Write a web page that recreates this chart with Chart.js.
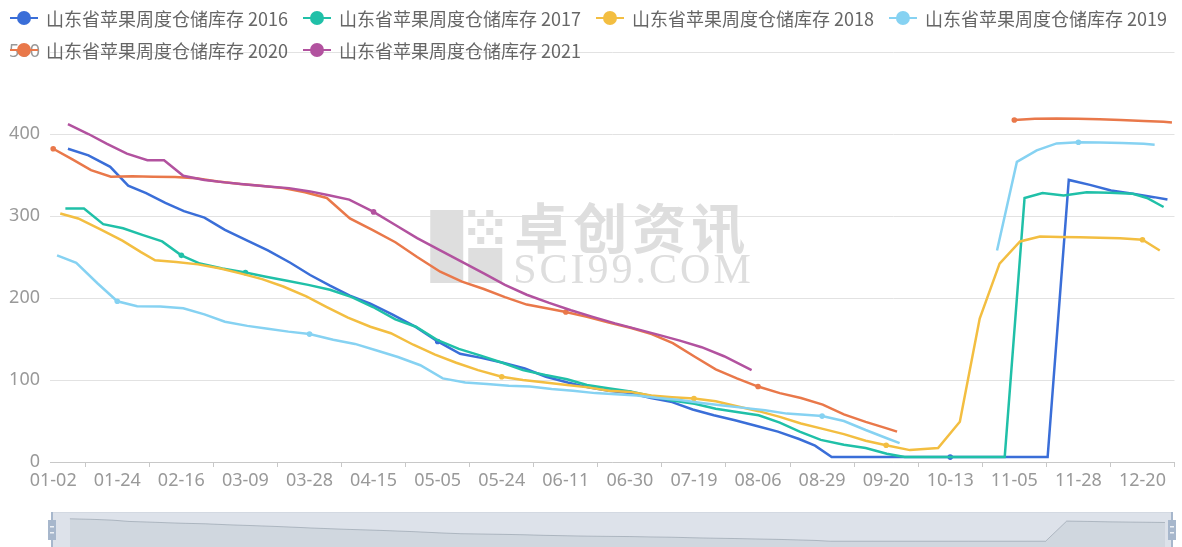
<!DOCTYPE html>
<html>
<head>
<meta charset="utf-8">
<script src="https://cdn.jsdelivr.net/npm/chart.js@4.4.1/dist/chart.umd.min.js"></script>
<style>
  html, body { margin: 0; padding: 0; background: #fff; }
  #wrap { position: relative; width: 1182px; height: 547px; overflow: hidden; }
  #mainBox { position: absolute; left: 0; top: 0; width: 1182px; height: 511px; }
  #sliderBox { position: absolute; left: 44px; top: 512px; width: 1136px; height: 36px; }
</style>
</head>
<body>
<div id="wrap">
  <div id="mainBox"><canvas id="chart"></canvas></div>
  <div id="sliderBox"><canvas id="slider"></canvas></div>
</div>
<script>
// date axis labels, one every label step
const tickLabels = ['01-02', '01-24', '02-16', '03-09', '03-28', '04-15', '05-05', '05-24', '06-11',
  '06-30', '07-19', '08-06', '08-29', '09-20', '10-13', '11-05', '11-28', '12-20'];

const seriesNames = [
  '山东省苹果周度仓储库存 2016',
  '山东省苹果周度仓储库存 2017',
  '山东省苹果周度仓储库存 2018',
  '山东省苹果周度仓储库存 2019',
  '山东省苹果周度仓储库存 2020',
  '山东省苹果周度仓储库存 2021'
];

// x = place on the date axis, counted in label steps (0 = 01-02)
const x2016 = [0.23, 0.55, 0.89, 1.17, 1.45, 1.75, 2.04, 2.36, 2.68, 3.03, 3.35, 3.7, 4.01, 4.32, 4.63, 4.95, 5.29, 5.65, 6, 6.35,
  6.68, 7.02, 7.36, 7.69, 8.03, 8.35, 8.67, 9, 9.33, 9.66, 9.98, 10.31, 10.64, 10.98, 11.31, 11.64, 11.89, 12.15, 12.48, 12.81,
  13.15, 13.48, 14, 14.31, 14.63, 14.96, 15.24, 15.52, 15.85, 16.18, 16.51, 16.85, 17.18, 17.39];
const v2016 = [382, 374, 360, 337, 328, 316, 306, 298, 283, 270, 258, 243, 228, 215, 203, 193, 180, 165, 147, 132,
  127, 121, 114, 104, 97, 91, 87, 84, 78, 73, 64, 57, 51, 44, 37, 28, 20, 6, 6, 6,
  6, 6, 6, 6, 6, 6, 6, 6, 344, 338, 331, 327, 323, 320];

const x2017 = [0.19, 0.48, 0.78, 1.09, 1.39, 1.7, 2, 2.29, 2.64, 3, 3.32, 3.65, 3.98, 4.32, 4.66, 4.99, 5.34, 5.66, 5.99, 6.33,
  6.66, 7.01, 7.33, 7.68, 8.02, 8.33, 8.66, 9.01, 9.33, 9.66, 10.01, 10.34, 10.67, 11.01, 11.34, 11.65, 11.98, 12.34, 12.68, 13.01,
  13.29, 13.68, 14.15, 14.54, 14.85, 15.16, 15.44, 15.77, 16.13, 16.49, 16.85, 17.07, 17.33];
const v2017 = [309, 309, 290, 285, 277, 269, 252, 242, 236, 231, 226, 221, 216, 210, 201, 189, 174, 165, 149, 138,
  130, 121, 112, 106, 101, 94, 90, 86, 80.5, 75, 71, 65, 61, 57, 48, 37, 27, 21, 17, 10,
  6, 6, 6, 6, 6, 322, 328, 325, 329, 328.5, 327, 322, 311];

const x2018 = [0.11, 0.39, 0.73, 1.08, 1.37, 1.59, 1.92, 2.26, 2.61, 2.92, 3.26, 3.59, 3.95, 4.27, 4.6, 4.95, 5.27, 5.62, 5.96, 6.29,
  6.63, 7, 7.33, 7.68, 8.02, 8.35, 8.67, 9.01, 9.33, 9.66, 10, 10.34, 10.67, 11.01, 11.34, 11.67, 11.98, 12.34, 12.68, 13,
  13.37, 13.81, 14.15, 14.46, 14.77, 15.09, 15.4, 15.71, 16.02, 16.33, 16.65, 17, 17.27];
const v2018 = [303, 297, 284, 270, 256, 246, 244, 241, 236, 230, 223, 214, 202, 189, 176, 165, 157, 143, 131, 121,
  112, 104, 100, 97, 94, 91, 87, 85.5, 81, 79, 77.5, 74, 68, 62, 55, 47, 41, 34, 26, 20.5,
  14.5, 17, 49, 175, 242, 269, 275, 274.5, 274, 273.5, 273, 271, 258];

const x2019 = [0.06, 0.36, 0.69, 1, 1.31, 1.67, 2.03, 2.36, 2.68, 3.03, 3.35, 3.67, 4, 4.37, 4.71, 5.05, 5.38, 5.73, 6.08, 6.43,
  6.77, 7.11, 7.44, 7.78, 8.11, 8.46, 8.78, 9.11, 9.44, 9.78, 10.12, 10.45, 10.78, 11.11, 11.45, 11.73, 12, 12.34, 12.68, 13.01,
  13.21, 14, 14.73, 15.04, 15.35, 15.66, 16, 16.33, 16.68, 17.02, 17.19];
const v2019 = [252, 243, 218, 196, 190, 189.5, 187.5, 180, 171, 166, 162.5, 159, 156, 149, 144, 136, 128, 118, 102, 97,
  95, 93, 92, 89, 87, 84, 82.5, 81, 78, 75.5, 72, 69, 66, 63, 59, 57.5, 56, 50, 39, 29,
  23, null, 258, 366, 380, 388.5, 390, 389.5, 389, 388, 387];

const x2020 = [0, 0.3, 0.59, 0.9, 1.23, 1.56, 1.9, 2.23, 2.57, 2.92, 3.24, 3.59, 3.93, 4.27, 4.63, 4.98, 5.34, 5.68, 6.04, 6.38,
  6.72, 7.05, 7.39, 7.74, 8, 8.33, 8.67, 9.02, 9.34, 9.67, 10.02, 10.34, 10.67, 11, 11.34, 11.67, 12.01, 12.34, 12.68, 13.01,
  13.17, 14, 15, 15.32, 15.66, 15.99, 16.33, 16.66, 17.02, 17.33, 17.46];
const v2020 = [382, 369, 356, 348, 348.5, 348, 347.5, 346, 342, 339, 337, 334, 329, 322, 297, 283, 268, 250, 232, 220,
  211, 201, 192, 187, 183, 177, 170, 163.5, 156, 145, 128, 113, 102, 92, 84, 78, 70, 58, 49, 41,
  37, null, 417, 418.5, 419, 418.5, 418, 417, 416, 415, 414];

const x2021 = [0.23, 0.55, 0.84, 1.15, 1.47, 1.73, 2.03, 2.36, 2.68, 3.01, 3.35, 3.68, 4.01, 4.32, 4.62, 5, 5.34, 5.68, 6.04, 6.38,
  6.72, 7.05, 7.39, 7.74, 8.08, 8.42, 8.77, 9.11, 9.45, 9.78, 10.12, 10.47, 10.9];
const v2021 = [412, 400, 388, 376, 368, 368, 349, 344, 341, 338.5, 336, 334, 330, 325, 320, 305, 289, 273, 258, 244,
  230, 216, 204, 194, 185, 177, 169, 162, 155, 148, 140, 129, 112];

const seriesX = [x2016, x2017, x2018, x2019, x2020, x2021];
const seriesV = [v2016, v2017, v2018, v2019, v2020, v2021];
const colors = ['#3a6ed8', '#20c0a8', '#f3be41', '#86d2f2', '#e9784a', '#b2529f'];

Chart.defaults.font.family = '"Noto Sans", sans-serif';

// ECharts-style legend: short line with a dot, rows packed from the left
const seriesLegend = {
  id: 'seriesLegend',
  afterDraw(chart) {
    const c = chart.ctx;
    c.save();
    c.font = '18px "Noto Sans CJK SC"';
    c.textBaseline = 'middle';
    let x = 10, y = 18;
    chart.data.datasets.forEach((ds, i) => {
      const tw = c.measureText(ds.label).width;
      if (i > 0 && x + 36 + tw > chart.width - 4) { x = 10; y += 32; }
      c.strokeStyle = ds.borderColor;
      c.fillStyle = ds.borderColor;
      c.lineWidth = 2;
      c.beginPath();
      c.moveTo(x, y);
      c.lineTo(x + 28, y);
      c.stroke();
      c.beginPath();
      c.arc(x + 14, y, 7, 0, Math.PI * 2);
      c.fill();
      c.fillStyle = '#666';
      c.fillText(ds.label, x + 36, y + 1);
      x += 36 + tw + 15;
    });
    c.restore();
  }
};

// faint site watermark behind the lines
const watermark = {
  id: 'watermark',
  beforeDatasetsDraw(chart) {
    const c = chart.ctx, a = chart.chartArea;
    const cx = (a.left + a.right) / 2, cy = (a.top + a.bottom) / 2;
    c.save();
    c.fillStyle = '#dedede';
    c.fillRect(cx - 182, cy - 47, 33, 73);
    c.fillRect(cx - 144, cy - 9, 34, 35);
    for (let r = 0; r < 4; r++) {
      for (let k = 0; k < 4; k++) {
        if ((r + k) % 2 === 0) c.fillRect(cx - 144 + k * 9, cy - 47 + r * 9, 7, 7);
      }
    }
    c.textBaseline = 'alphabetic';
    c.font = 'bold 54px "Noto Sans CJK SC"';
    c.letterSpacing = '5px';
    c.fillText('卓创资讯', cx - 98, cy - 8);
    c.font = '42px "Liberation Serif"';
    c.letterSpacing = '3px';
    c.fillText('SCI99.COM', cx - 99, cy + 26);
    c.restore();
  }
};

new Chart(document.getElementById('chart'), {
  type: 'line',
  data: {
    datasets: seriesNames.map((name, i) => ({
      label: name,
      data: seriesX[i].map((x, j) => ({ x, y: seriesV[i][j] })),
      borderColor: colors[i],
      backgroundColor: colors[i],
      pointBackgroundColor: colors[i],
      borderWidth: 2.5,
      pointBorderWidth: 0,
      pointRadius: c => (c.raw && c.raw.y != null && Number.isInteger(c.raw.x)) ? 2.8 : 0,
      pointHoverRadius: 4,
      tension: 0,
      spanGaps: false,
      order: seriesNames.length - i
    }))
  },
  options: {
    responsive: true,
    maintainAspectRatio: false,
    animation: false,
    layout: { padding: { top: 52, right: 7.5, left: 0, bottom: 0 } },
    plugins: {
      legend: { display: false },
      tooltip: { mode: 'index', intersect: false }
    },
    scales: {
      x: {
        type: 'linear',
        min: -0.05,
        max: 17.5,
        afterBuildTicks: s => {
          s.ticks = tickLabels.flatMap((_, i) => [{ value: i }, { value: i + 0.5 }]);
        },
        afterFit: s => { s.height = 49; },
        grid: {
          drawOnChartArea: false,
          drawTicks: true,
          tickLength: 5,
          color: c => (c.tick && c.tick.value % 1 !== 0) ? '#c8c8c8' : 'rgba(0,0,0,0)'
        },
        border: { color: '#c8c8c8' },
        ticks: {
          autoSkip: false,
          maxRotation: 0,
          padding: 3,
          color: '#999',
          font: { size: 18 },
          callback: v => Number.isInteger(v) ? tickLabels[v] : ''
        }
      },
      y: {
        min: 0,
        max: 500,
        afterFit: s => { s.width = 50; },
        grid: { color: '#e2e2e2', drawTicks: false },
        border: { display: false },
        ticks: { stepSize: 100, padding: 10, color: '#999', font: { size: 18 } }
      }
    }
  },
  plugins: [watermark, seriesLegend]
});

// data zoom strip under the axis, with the 2016 series as its shadow
const sliderFrame = {
  id: 'sliderFrame',
  beforeDraw(chart) {
    const c = chart.ctx, a = chart.chartArea;
    c.save();
    c.fillStyle = '#dde2ea';
    c.fillRect(a.left, a.top, a.right - a.left, a.bottom - a.top);
    c.strokeStyle = '#d3d9e2';
    c.strokeRect(a.left + 0.5, a.top + 0.5, a.right - a.left - 1, a.bottom - a.top);
    c.restore();
  },
  afterDraw(chart) {
    const c = chart.ctx, a = chart.chartArea;
    const mid = (a.top + a.bottom) / 2;
    c.save();
    [a.left, a.right].forEach(hx => {
      c.fillStyle = '#a7b7cc';
      c.fillRect(hx - 1, a.top, 2, a.bottom - a.top);
      c.fillRect(hx - 4, mid - 10, 8, 20);
      c.fillStyle = '#eef1f5';
      c.fillRect(hx - 2, mid - 4, 4, 1.5);
      c.fillRect(hx - 2, mid + 2, 4, 1.5);
    });
    c.restore();
  }
};

new Chart(document.getElementById('slider'), {
  type: 'line',
  data: {
    datasets: [{
      data: x2016.map((x, j) => ({ x, y: v2016[j] })),
      borderColor: 'rgba(47,69,84,0.25)',
      borderWidth: 1,
      backgroundColor: 'rgba(47,69,84,0.07)',
      fill: 'start',
      pointRadius: 0,
      tension: 0
    }]
  },
  options: {
    responsive: true,
    maintainAspectRatio: false,
    animation: false,
    events: [],
    layout: { padding: { left: 8, right: 8, top: 0, bottom: 0 } },
    plugins: { legend: { display: false }, tooltip: { enabled: false } },
    scales: {
      x: { type: 'linear', display: false, min: -0.05, max: 17.5 },
      y: { display: false, min: -108, max: 496 }
    }
  },
  plugins: [sliderFrame]
});
</script>
</body>
</html>
